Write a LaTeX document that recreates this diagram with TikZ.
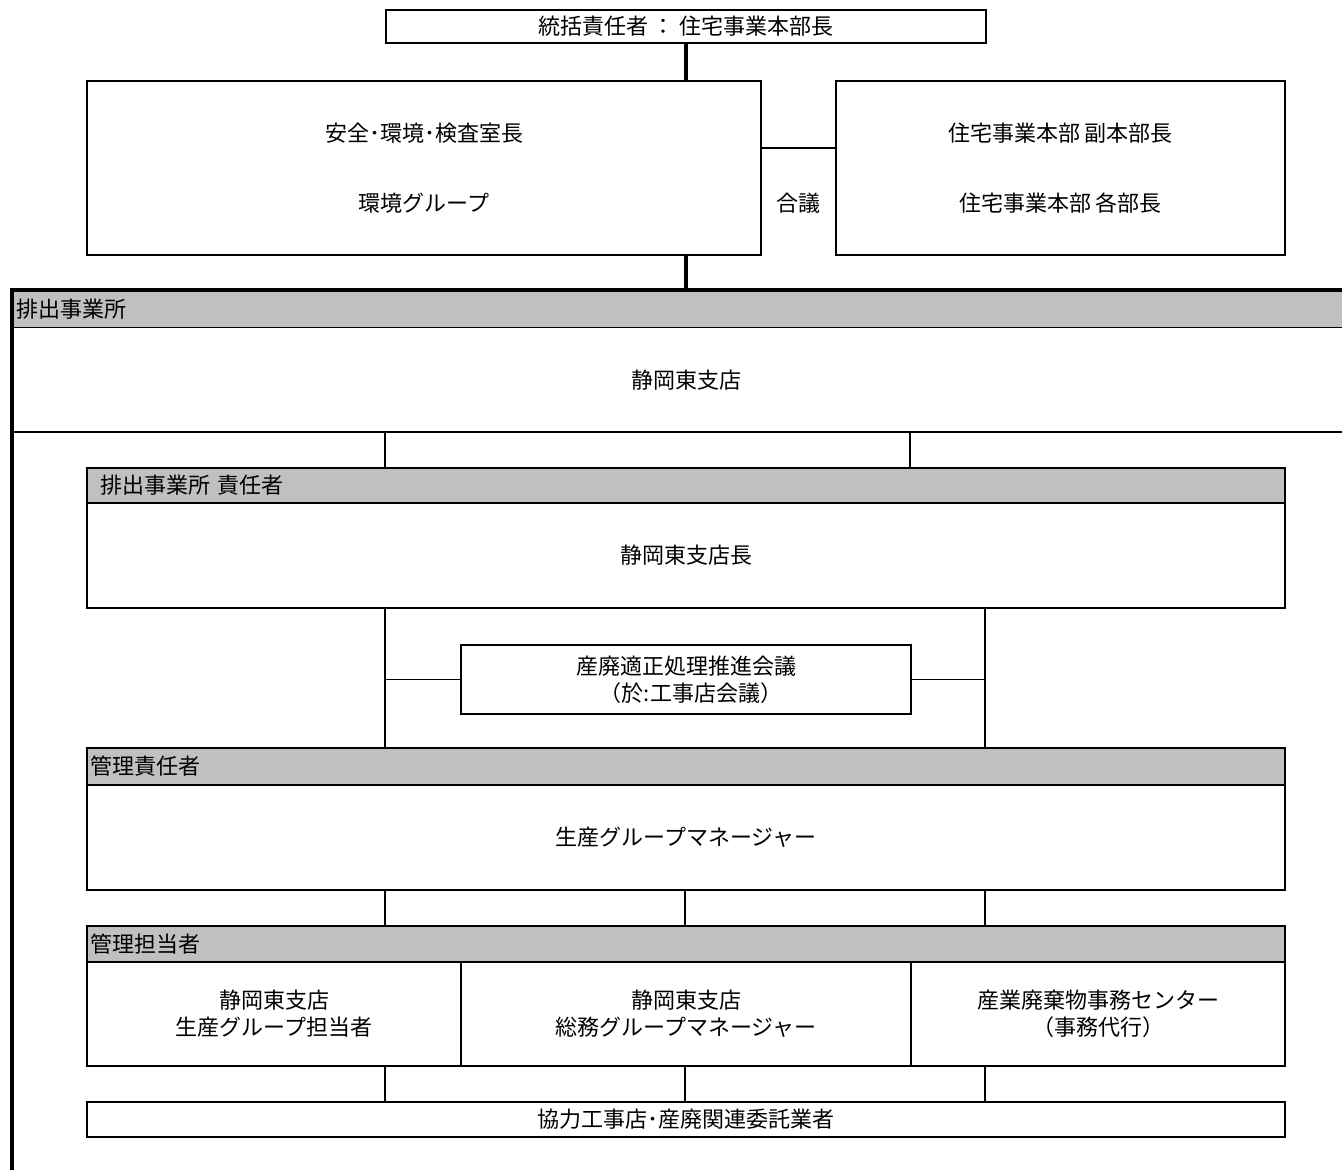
\documentclass[tikz,border=0pt]{standalone}
\usepackage{fontspec}
\setmainfont{Noto Sans CJK JP}
\usetikzlibrary{positioning,calc}
\definecolor{hdrgray}{RGB}{192,192,192}
\begin{document}
\begin{tikzpicture}[x=1pt,y=-1pt, font=\fontsize{22}{27}\selectfont, line join=miter,
  box/.style={draw, line width=2pt, inner sep=0pt, anchor=north west, align=center},
  hdr/.style={box, fill=hdrgray, align=left, inner xsep=3pt},
  conn/.style={line width=1.6pt},
  bold/.style={line width=4.5pt}]
\useasboundingbox (0,0) rectangle (1342,1170);
% 上部
\node[box, minimum width=600, minimum height=33] (top) at (385,9) {統括責任者 ： 住宅事業本部長};
\node[box, minimum width=674, minimum height=174] (anzen) at (86,80) {安全･環境･検査室長\\[43pt]環境グループ};
\node[box, minimum width=449, minimum height=174] (fuku) at (835,80) {住宅事業本部 副本部長\\[43pt]住宅事業本部 各部長};
\node (gogi) at (798,203) {合議};
\draw[conn] (anzen.east |- 0,148) -- (fuku.west |- 0,148);
\draw[bold] (top.south) -- (top.south |- anzen.north);
\draw[bold] (top.south |- anzen.south) -- (top.south |- 0,290);
% 排出事業所
\node[fill=hdrgray, anchor=north west, inner sep=0pt, inner xsep=4pt, minimum height=37, text width=1322, align=left] (jigyosho) at (12,290) {排出事業所};
\node (shiten) at (686,380) {静岡東支店};
\draw[conn] (jigyosho.south west) -- (jigyosho.south east);
\draw[conn] (12,432) -- (1342,432);
\draw[bold] (10,290) -- (1342,290);
\draw[bold] (12,288) -- (12,1170);
% 責任者
\node[hdr, minimum width=1198, minimum height=35, text width=1192] (sekininhdr) at (86,467) {\hspace{10pt}排出事業所 責任者};
\node[box, minimum width=1198, minimum height=105] (sekinin) at (86,502) {静岡東支店長};
\foreach \x in {385,910} \draw[conn] (\x,432) -- (sekininhdr.north -| \x,0);
% 会議
\node[box, minimum width=450, minimum height=69] (kaigi) at (460,644) {産廃適正処理推進会議\\\hspace{10pt}（於:工事店会議）};
\node[hdr, minimum width=1198, minimum height=37, text width=1192] (kanrihdr) at (86,747) {管理責任者};
\node[box, minimum width=1198, minimum height=105] (kanri) at (86,784) {生産グループマネージャー};
\foreach \x in {385,985} \draw[conn] (sekinin.south -| \x,0) -- (kanrihdr.north -| \x,0);
\draw[conn] (kaigi.west -| 385,0) -- (kaigi.west);
\draw[conn] (kaigi.east) -- (kaigi.east -| 985,0);
% 担当者
\node[hdr, minimum width=1198, minimum height=36, text width=1192] (tantohdr) at (86,925) {管理担当者};
\node[box, minimum width=374, minimum height=104] (tanto1) at (86,961) {静岡東支店\\生産グループ担当者};
\node[box, minimum width=450, minimum height=104] (tanto2) at (460,961) {静岡東支店\\総務グループマネージャー};
\node[box, minimum width=374, minimum height=104] (tanto3) at (910,961) {産業廃棄物事務センター\\（事務代行）};
\foreach \x in {385,685,985} \draw[conn] (kanri.south -| \x,0) -- (tantohdr.north -| \x,0);
% 協力工事店
\node[box, minimum width=1198, minimum height=35] (kyoryoku) at (86,1101) {協力工事店･産廃関連委託業者};
\foreach \x in {385,685,985} \draw[conn] (tanto1.south -| \x,0) -- (kyoryoku.north -| \x,0);
\end{tikzpicture}
\end{document}
